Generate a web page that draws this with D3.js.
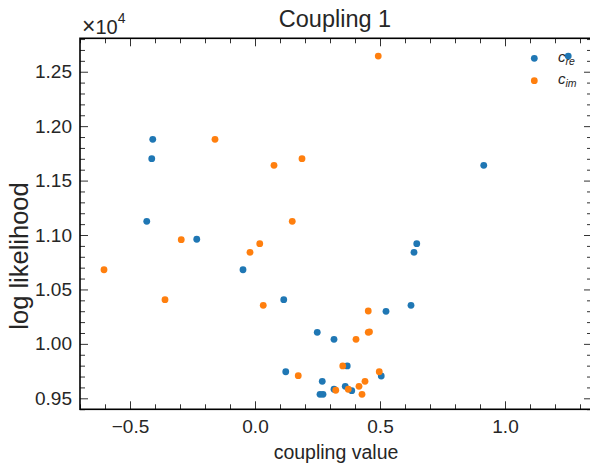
<!DOCTYPE html>
<html>
<head>
<meta charset="utf-8">
<script src="https://cdn.jsdelivr.net/npm/d3@7"></script>
<style>
  html, body { margin: 0; padding: 0; background: #fff; }
  svg text { font-family: "Liberation Sans", Arial, sans-serif; fill: #262626; }
</style>
</head>
<body>
<div id="chart"></div>
<script>
// coupling values and log likelihood for the real and imaginary parts
const reX = [-0.409, -0.413, -0.433, -0.233, -0.048, 0.115, 0.647, 0.636, 0.624, 0.915, 1.253,
    0.524, 0.249, 0.316, 0.123, 0.369, 0.505, 0.269, 0.316, 0.361, 0.387, 0.260, 0.272];
const reY = [11879, 11701, 11126, 10961, 10681, 10406, 10920, 10841, 10354, 11640, 12644,
    10299, 10106, 10042, 9744, 9797, 9705, 9656, 9583, 9610, 9570, 9537, 9537];
const imX = [-0.160, -0.295, -0.604, -0.360, -0.020, 0.019, 0.076, 0.188, 0.149, 0.033, 0.493,
    0.453, 0.453, 0.458, 0.404, 0.351, 0.173, 0.497, 0.440, 0.416, 0.323, 0.373, 0.428];
const imY = [11879, 10957, 10681, 10406, 10841, 10920, 11640, 11701, 11126, 10354, 12644,
    10302, 10106, 10111, 10042, 9797, 9708, 9744, 9656, 9610, 9574, 9583, 9537];

const xTicks = [-0.5, 0.0, 0.5, 1.0];
const yTicks = [9500, 10000, 10500, 11000, 11500, 12000, 12500];

const seriesNames = ["re", "im"];
const seriesColors = ["#1f77b4", "#ff7f0e"];

const width = 590, height = 464;
const margin = { top: 38.3, left: 80, bottom: 54.7, right: -2 };

const svg = d3.select("#chart").append("svg")
    .attr("width", width)
    .attr("height", height);

const x = d3.scaleLinear()
    .domain([-0.7, 1.348])
    .range([margin.left, width - margin.right]);

const y = d3.scaleLinear()
    .domain([9399, 12807])
    .range([height - margin.bottom, margin.top]);

const x0 = x.range()[0], x1 = x.range()[1];
const y0 = y.range()[0], y1 = y.range()[1];

// minor tick positions
const xMinor = d3.range(-0.7, 1.35, 0.1).map(v => +v.toFixed(2)).filter(v => xTicks.indexOf(v) < 0);
const yMinor = d3.range(9400, 12801, 100).filter(v => yTicks.indexOf(v) < 0);

function styleAxis(g) {
    g.select(".domain").remove();
    g.selectAll(".tick line").attr("stroke", "#333").attr("stroke-width", 1);
}

// bottom
svg.append("g")
    .attr("transform", `translate(0,${y0})`)
    .call(d3.axisBottom(x).tickValues(xTicks).tickSize(-8).tickPadding(10).tickFormat(d3.format(".1f")))
    .call(styleAxis)
    .call(g => g.selectAll("text").attr("font-size", 19).attr("fill", "#262626"));
svg.append("g")
    .attr("transform", `translate(0,${y0})`)
    .call(d3.axisBottom(x).tickValues(xMinor).tickSize(-5).tickFormat(""))
    .call(styleAxis);

// top
svg.append("g")
    .attr("transform", `translate(0,${y1})`)
    .call(d3.axisTop(x).tickValues(xTicks).tickSize(-8).tickFormat(""))
    .call(styleAxis);
svg.append("g")
    .attr("transform", `translate(0,${y1})`)
    .call(d3.axisTop(x).tickValues(xMinor).tickSize(-5).tickFormat(""))
    .call(styleAxis);

// left
svg.append("g")
    .attr("transform", `translate(${x0},0)`)
    .call(d3.axisLeft(y).tickValues(yTicks).tickSize(-8).tickPadding(8).tickFormat(d => (d / 1e4).toFixed(2)))
    .call(styleAxis)
    .call(g => g.selectAll("text").attr("font-size", 19).attr("fill", "#262626"));
svg.append("g")
    .attr("transform", `translate(${x0},0)`)
    .call(d3.axisLeft(y).tickValues(yMinor).tickSize(-5).tickFormat(""))
    .call(styleAxis);

// right
svg.append("g")
    .attr("transform", `translate(${x1},0)`)
    .call(d3.axisRight(y).tickValues(yTicks).tickSize(-8).tickFormat(""))
    .call(styleAxis);
svg.append("g")
    .attr("transform", `translate(${x1},0)`)
    .call(d3.axisRight(y).tickValues(yMinor).tickSize(-5).tickFormat(""))
    .call(styleAxis);

// frame
svg.append("rect")
    .attr("x", x0).attr("y", y1)
    .attr("width", x1 - x0).attr("height", y0 - y1)
    .attr("fill", "none")
    .attr("stroke", "#000")
    .attr("stroke-width", 1.6);

// points
const series = [
    reX.map((v, i) => ({ x: v, y: reY[i] })),
    imX.map((v, i) => ({ x: v, y: imY[i] }))
];

series.forEach((pts, k) => {
    svg.append("g").selectAll("circle")
        .data(pts)
        .enter().append("circle")
        .attr("cx", d => x(d.x))
        .attr("cy", d => y(d.y))
        .attr("r", 3.4)
        .attr("fill", seriesColors[k]);
});

// legend
const legend = svg.append("g");
seriesNames.forEach((name, k) => {
    const ly = 58.3 + k * 22.4;
    legend.append("circle")
        .attr("cx", 534.3).attr("cy", ly).attr("r", 3.4)
        .attr("fill", seriesColors[k]);
    const t = legend.append("text")
        .attr("x", 558).attr("y", ly + 3.5)
        .attr("font-size", 15)
        .attr("font-style", "italic")
        .attr("fill", "#333");
    t.append("tspan").text("c");
    t.append("tspan").attr("dy", 3).attr("font-size", 10.5).text(name);
});

// title
svg.append("text")
    .attr("x", (x0 + x1) / 2 - 1)
    .attr("y", 27)
    .attr("text-anchor", "middle")
    .attr("font-size", 23.5)
    .text("Coupling 1");

// offset text
const off = svg.append("text")
    .attr("x", 82)
    .attr("y", 33.5)
    .attr("font-size", 20);
off.append("tspan").attr("font-size", 23).text("×");
off.append("tspan").text("10");
off.append("tspan").attr("dy", -11).attr("font-size", 14).text("4");

// axis labels
svg.append("text")
    .attr("x", 336)
    .attr("y", 459)
    .attr("text-anchor", "middle")
    .attr("font-size", 19.5)
    .text("coupling value");

svg.append("text")
    .attr("transform", "translate(28,256) rotate(-90)")
    .attr("text-anchor", "middle")
    .attr("font-size", 25.5)
    .text("log likelihood");
</script>
</body>
</html>
